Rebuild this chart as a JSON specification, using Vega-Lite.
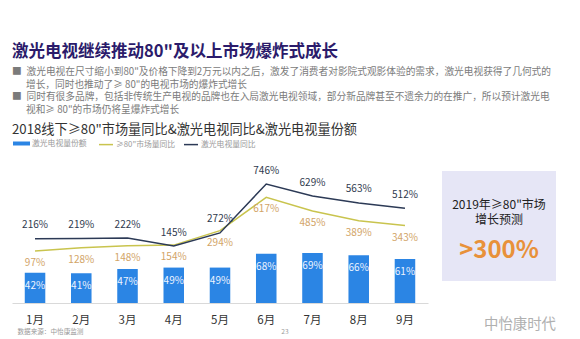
{
  "$schema": "https://vega.github.io/schema/vega-lite/v6.json",
  "background": "white",
  "padding": {"left": 12, "top": 44, "right": 0, "bottom": 0},
  "config": {
    "view": {"stroke": null},
    "font": "Noto Sans CJK SC",
    "text": {"font": "Noto Sans CJK SC"},
    "title": {"font": "Noto Sans CJK SC", "subtitleFont": "Noto Sans CJK SC"}
  },
  "title": {
    "text": "激光电视继续推动80\"及以上市场爆炸式成长",
    "subtitle": [
      "■\u2002激光电视在尺寸缩小到80\"及价格下降到2万元以内之后，激发了消费者对影院式观影体验的需求，激光电视获得了几何式的",
      "\u2800\u2800增长，同时也推动了≥ 80\"的电视市场的爆炸式增长",
      "■\u2002同时有很多品牌，包括非传统生产电视的品牌也在入局激光电视领域，部分新品牌甚至不遗余力的在推广，所以预计激光电",
      "\u2800\u2800视和≥ 80\"的市场仍将呈爆炸式增长"
    ],
    "anchor": "start",
    "fontSize": 16.5,
    "fontWeight": "bold",
    "color": "#2b1b6b",
    "subtitleFontSize": 9.7,
    "subtitleColor": "#7b7b7b",
    "subtitleLineHeight": 12.7,
    "subtitlePadding": 6.2,
    "offset": 8
  },
  "hconcat": [
    {
      "width": 416,
      "height": 132,
      "title": {
        "text": "2018线下≥80\"市场量同比&激光电视同比&激光电视量份额",
        "anchor": "start",
        "fontSize": 13.2,
        "fontWeight": "normal",
        "color": "#333333",
        "offset": 28.6
      },
      "data": {
        "values": [
          {"month": "1月", "share": 0.42, "tv": 2.16, "mkt": 0.97},
          {"month": "2月", "share": 0.41, "tv": 2.19, "mkt": 1.28},
          {"month": "3月", "share": 0.47, "tv": 2.22, "mkt": 1.48},
          {"month": "4月", "share": 0.49, "tv": 1.45, "mkt": 1.54},
          {"month": "5月", "share": 0.49, "tv": 2.72, "mkt": 2.94},
          {"month": "6月", "share": 0.68, "tv": 7.46, "mkt": 6.17},
          {"month": "7月", "share": 0.69, "tv": 6.29, "mkt": 4.85},
          {"month": "8月", "share": 0.66, "tv": 5.63, "mkt": 3.89},
          {"month": "9月", "share": 0.61, "tv": 5.12, "mkt": 3.43}
        ]
      },
      "encoding": {
        "x": {
          "field": "month",
          "type": "nominal",
          "sort": null,
          "scale": {"paddingInner": 0.556, "paddingOuter": 0.276},
          "axis": {
            "title": "数据来源：中怡康监测\u3000\u3000\u3000\u3000\u3000\u3000\u3000\u3000\u3000\u3000\u3000\u3000\u3000\u3000\u3000\u3000\u3000\u3000\u3000\u3000\u3000\u3000\u3000\u3000\u3000\u3000\u3000\u3000\u3000\u300023",
            "titleFontSize": 6.6,
            "titleFontWeight": "normal",
            "titleColor": "#9a9a9a",
            "titleAnchor": "start",
            "titleAlign": "left",
            "titleX": 5,
            "titlePadding": 2.6,
            "labelAngle": 0,
            "labelFontSize": 11.5,
            "labelColor": "#333333",
            "labelPadding": 11,
            "ticks": false,
            "tickSize": 0,
            "domainColor": "#d9d9d9",
            "domainWidth": 1
          }
        }
      },
      "layer": [
        {
          "mark": {"type": "bar"},
          "encoding": {
            "y": {"field": "share", "type": "quantitative", "scale": {"domain": [0, 1.826]}, "axis": null},
            "fill": {
              "datum": "激光电视量份额",
              "scale": {"range": ["#2b85e4"]},
              "legend": {
                "orient": "none",
                "legendX": 1,
                "legendY": -36,
                "title": null,
                "symbolType": "M-1,-0.235H1V0.235H-1Z",
                "symbolSize": 289,
                "symbolStrokeWidth": 0,
                "labelFontSize": 7.8,
                "labelColor": "#9a9a9a",
                "labelOffset": 2,
                "padding": 0
              }
            }
          }
        },
        {
          "mark": {"type": "text", "dy": 13, "fontSize": 10, "color": "#eef4ff"},
          "encoding": {
            "y": {"field": "share", "type": "quantitative", "scale": {"domain": [0, 1.826]}, "axis": null},
            "text": {"field": "share", "type": "quantitative", "format": ".0%"}
          }
        },
        {
          "mark": {"type": "line", "strokeWidth": 1.5},
          "encoding": {
            "y": {"field": "mkt", "type": "quantitative", "scale": {"domain": [-4.07, 8.72]}, "axis": null},
            "stroke": {
              "datum": "≥80\"市场量同比",
              "scale": {"domain": ["≥80\"市场量同比", "激光电视量同比"], "range": ["#c9c44e", "#2c3a56"]},
              "legend": {
                "orient": "none",
                "direction": "horizontal",
                "legendX": 86,
                "legendY": -34.5,
                "title": null,
                "symbolType": "stroke",
                "symbolSize": 196,
                "symbolStrokeWidth": 1.5,
                "labelFontSize": 7.8,
                "labelColor": "#9a9a9a",
                "labelOffset": 2,
                "columnPadding": 5,
                "padding": 0
              }
            }
          }
        },
        {
          "mark": {"type": "line", "strokeWidth": 1.5},
          "encoding": {
            "y": {"field": "tv", "type": "quantitative", "scale": {"domain": [-4.07, 8.72]}, "axis": null},
            "stroke": {"datum": "激光电视量同比"}
          }
        },
        {
          "mark": {"type": "text", "dy": 12, "fontSize": 10, "color": "#d2a467"},
          "encoding": {
            "y": {"field": "mkt", "type": "quantitative", "scale": {"domain": [-4.07, 8.72]}, "axis": null},
            "text": {"field": "mkt", "type": "quantitative", "format": ".0%"}
          }
        },
        {
          "mark": {"type": "text", "dy": -13.5, "fontSize": 10, "color": "#2f3a4e"},
          "encoding": {
            "y": {"field": "tv", "type": "quantitative", "scale": {"domain": [-4.07, 8.72]}, "axis": null},
            "text": {"field": "tv", "type": "quantitative", "format": ".0%"}
          }
        }
      ],
      "resolve": {"scale": {"y": "independent"}}
    },
    {
      "width": 114,
      "height": 110,
      "view": {"fill": "#e6e6f6", "stroke": null},
      "title": {
        "text": "中怡康时代",
        "orient": "bottom",
        "anchor": "end",
        "fontSize": 14.4,
        "fontWeight": "normal",
        "color": "#b0b0b0",
        "offset": 37
      },
      "layer": [
        {
          "data": {"values": [{"label": "2019年≥80\"市场\n增长预测"}]},
          "mark": {"type": "text", "lineBreak": "\n", "lineHeight": 15, "fontSize": 12, "color": "#222222", "dy": -21.5},
          "encoding": {"text": {"field": "label"}}
        },
        {
          "data": {"values": [{"label": ">300%"}]},
          "mark": {"type": "text", "fontSize": 24, "fontWeight": "bold", "color": "#e8913a", "dy": 25},
          "encoding": {"text": {"field": "label"}}
        }
      ]
    }
  ],
  "bounds": "flush",
  "spacing": 14
}
